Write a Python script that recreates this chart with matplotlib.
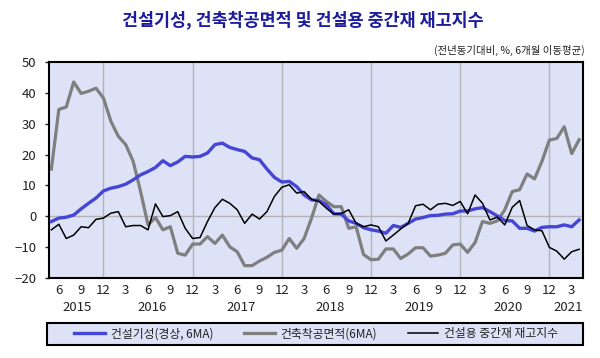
import numpy as np
import pandas as pd
import matplotlib.pyplot as plt
import matplotlib.transforms as mtransforms
from matplotlib.patches import Rectangle

plt.rcParams['font.family'] = ['Noto Sans CJK KR', 'DejaVu Sans']

# 월별 데이터 (2015.5 ~ 2021.4)
months = pd.date_range('2015-05-01', '2021-04-01', freq='MS')

construction = [-1.7, -0.6, -0.3, 0.4, 2.4, 4.2, 5.9, 8.2, 9.1, 9.6, 10.4, 11.8,
                13.4, 14.5, 15.8, 18.0, 16.4, 17.6, 19.4, 19.2, 19.4, 20.5, 23.2, 23.7,
                22.3, 21.6, 21.0, 18.9, 18.3, 15.3, 12.6, 11.1, 11.3, 9.6, 6.9, 5.3,
                5.1, 3.7, 0.8, 0.7, -1.5, -2.3, -3.7, -4.4, -4.8, -5.5, -3.0, -3.6,
                -2.3, -0.9, -0.4, 0.2, 0.3, 0.7, 0.8, 1.7, 1.7, 2.4, 2.8, 1.5,
                0.1, -1.4, -1.5, -3.9, -3.9, -4.8, -3.6, -3.4, -3.4, -2.8, -3.4, -1.2]

building_starts = [15.3, 34.6, 35.4, 43.5, 39.8, 40.5, 41.5, 38.3, 30.8, 25.9, 23.2, 17.8,
                   8.0, -2.8, -0.4, -4.4, -3.4, -12.0, -12.6, -9.0, -9.0, -6.6, -8.8, -6.1,
                   -9.9, -11.5, -16.0, -16.0, -14.5, -13.3, -11.7, -11.0, -7.2, -10.4, -7.2, -0.6,
                   6.9, 4.8, 3.1, 3.1, -3.9, -3.4, -12.4, -14.1, -13.9, -10.6, -10.6, -13.7,
                   -12.2, -10.2, -10.2, -12.9, -12.6, -12.0, -9.3, -9.0, -11.7, -8.5, -1.7, -2.3,
                   -1.5, 2.1, 8.0, 8.6, 13.7, 12.1, 17.8, 24.7, 25.2, 29.0, 20.3, 24.8]

inventory = [-4.4, -2.6, -7.2, -6.1, -3.4, -3.7, -1.0, -0.6, 1.0, 1.5, -3.4, -3.0,
             -3.0, -4.4, 4.0, -0.1, 0.2, 1.5, -3.9, -7.2, -6.9, -1.7, 2.8, 5.5,
             4.2, 2.1, -2.3, 0.7, -0.9, 1.5, 6.4, 9.4, 10.2, 7.5, 8.0, 5.5,
             4.8, 2.6, 0.7, 0.9, 2.1, -2.3, -3.4, -2.8, -3.4, -8.0, -6.1, -4.1,
             -2.3, 3.4, 3.9, 2.1, 3.9, 4.2, 3.5, 4.8, 0.8, 6.9, 4.2, -1.2,
             -0.3, -2.8, 2.9, 5.1, -3.0, -4.4, -4.7, -10.1, -11.3, -13.9, -11.5, -10.7]

labels = ['건설기성(경상, 6MA)', '건축착공면적(6MA)', '건설용 중간재 재고지수']

bg = '#dde2f6'
txt = '#222222'
x = np.arange(len(months))

fig = plt.figure(figsize=(6, 3.58), dpi=100)
ax = fig.add_axes([0.0817, 0.2235, 0.8903, 0.6035])
ax.set_facecolor(bg)

# 격자: 12월 세로선, 0 가로선
for i, m in enumerate(months):
    if m.month == 12:
        ax.axvline(i, color='#b4b4b8', lw=1, zorder=1)
ax.axhline(0, color='#b4b4b8', lw=1, zorder=1)

l1, = ax.plot(x, construction, color='#4545d6', lw=2.4, zorder=3)
l2, = ax.plot(x, building_starts, color='#7f7f7f', lw=2.3, zorder=2)
l3, = ax.plot(x, inventory, color='black', lw=1.1, zorder=4)

ax.set_xlim(-0.32, 71.55)
ax.set_ylim(-20, 50)
ax.set_yticks(range(-20, 51, 10))

tick_pos = [i for i, m in enumerate(months) if m.month % 3 == 0]
ax.set_xticks(tick_pos)
ax.set_xticklabels([str(months[i].month) for i in tick_pos])
ax.tick_params(axis='x', length=0, pad=4, labelsize=9.5, colors=txt)
ax.tick_params(axis='y', length=3, width=1, labelsize=9.5, colors=txt, pad=6)
for sp in ax.spines.values():
    sp.set_linewidth(1.5)

# 연도 라벨
trans = mtransforms.blended_transform_factory(ax.transData, ax.transAxes)
for yr in sorted(set(m.year for m in months)):
    idx = [i for i, m in enumerate(months) if m.year == yr]
    ax.text((idx[0] + idx[-1]) / 2, -0.108, str(yr), transform=trans,
            ha='center', va='top', fontsize=9.5, color=txt)

fig.text(0.505, 0.945, '건설기성, 건축착공면적 및 건설용 중간재 재고지수',
         ha='center', va='center', fontsize=12.5, fontweight='bold', color='#1c1c9c')
fig.text(0.975, 0.858, '(전년동기대비, %, 6개월 이동평균)',
         ha='right', va='center', fontsize=7.5, color=txt)

# 범례 박스
box = Rectangle((47 / 600, 1 - 345 / 358), 536 / 600, 22 / 358,
                transform=fig.transFigure, facecolor=bg, edgecolor='black',
                lw=1.5, zorder=0)
fig.patches.append(box)
fig.legend([l1, l2, l3], labels, loc='center', bbox_to_anchor=(0.527, 1 - 334 / 358),
           ncol=3, fontsize=8.5, frameon=False, handlelength=2.6,
           handletextpad=0.5, columnspacing=2.6, labelcolor=txt)

fig.savefig('out.png', dpi=100)
